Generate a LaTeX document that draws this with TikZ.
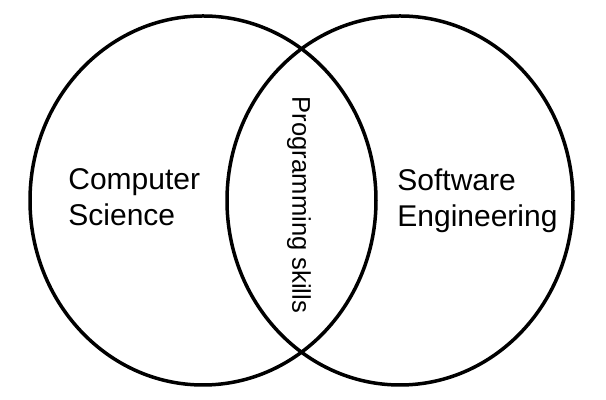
\documentclass[tikz,border=0pt]{standalone}
\usepackage{fontspec}
\setmainfont{Liberation Sans}
\usepackage{tikz}

\tikzset{
  venn/.style={line width=1.75pt},
  label/.style={inner sep=0pt, align=left, font=\fontsize{15}{18}\selectfont}
}

\begin{document}
\begin{tikzpicture}[x=0.5pt,y=0.5pt]
        \useasboundingbox (0,0) rectangle (606,400);
        %
        \draw [venn] (203,199.5) ellipse (173 and 184.5);
        %
        \draw [venn] (400,199.5) ellipse (173 and 184.5);
        %
        \node [label, anchor=north west] (cs) at (68,232) {Computer\\Science};
        \node [label, anchor=north west] (se) at (397,232) {Software\\Engineering};
        %
        \node [label, rotate=-90, font=\fontsize{12.8}{15}\selectfont] (prog) at (299,195) {Programming skills};
      \end{tikzpicture}
\end{document}
